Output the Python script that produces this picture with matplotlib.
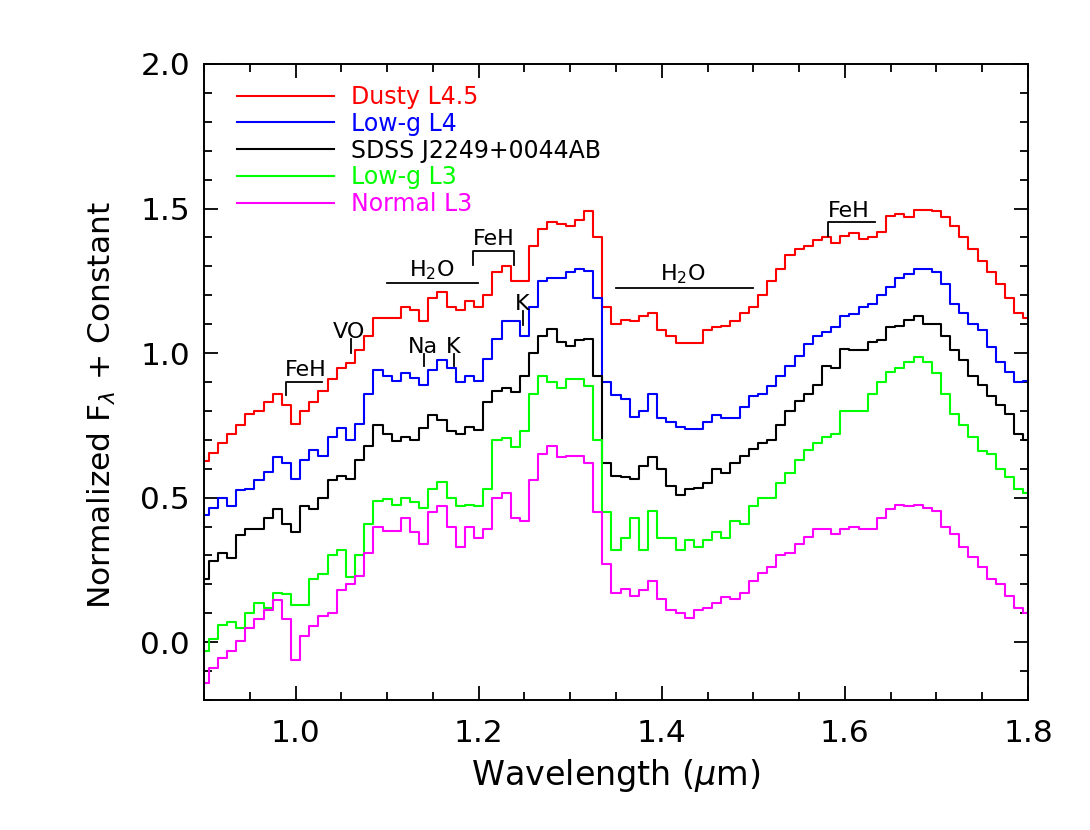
import numpy as np
import matplotlib
matplotlib.use("Agg")
import matplotlib.pyplot as plt
from matplotlib.ticker import MultipleLocator, FormatStrFormatter

# wavelength grid (micron)
wave = np.round(np.arange(0.90, 1.8001, 0.01), 2)

dusty_l45 = [0.626, 0.655, 0.69, 0.72, 0.75, 0.788, 0.80, 0.83, 0.86, 0.82,
             0.755, 0.80, 0.83, 0.87, 0.91, 0.95, 0.965, 1.01, 1.06, 1.12,
             1.12, 1.12, 1.16, 1.15, 1.11, 1.19, 1.21, 1.16, 1.15, 1.18,
             1.16, 1.20, 1.28, 1.30, 1.25, 1.25, 1.37, 1.43, 1.455, 1.445,
             1.44, 1.46, 1.49, 1.40, 1.16, 1.10, 1.115, 1.11, 1.13, 1.14,
             1.08, 1.06, 1.035, 1.035, 1.035, 1.08, 1.09, 1.095, 1.11, 1.14,
             1.16, 1.20, 1.25, 1.29, 1.34, 1.36, 1.37, 1.39, 1.40, 1.38,
             1.405, 1.415, 1.395, 1.40, 1.42, 1.475, 1.48, 1.47, 1.495, 1.495,
             1.49, 1.47, 1.44, 1.40, 1.36, 1.32, 1.28, 1.24, 1.19, 1.14, 1.12]

lowg_l4 = [0.44, 0.465, 0.50, 0.47, 0.525, 0.53, 0.56, 0.59, 0.64, 0.62,
           0.565, 0.63, 0.665, 0.645, 0.71, 0.74, 0.70, 0.755, 0.86, 0.94,
           0.92, 0.905, 0.93, 0.915, 0.89, 0.94, 0.975, 0.95, 0.90, 0.92,
           0.905, 0.98, 1.05, 1.11, 1.11, 1.06, 1.16, 1.25, 1.26, 1.26,
           1.28, 1.29, 1.285, 1.19, 0.90, 0.855, 0.84, 0.78, 0.80, 0.86,
           0.775, 0.76, 0.745, 0.736, 0.736, 0.76, 0.785, 0.776, 0.776, 0.815,
           0.85, 0.86, 0.886, 0.92, 0.955, 0.99, 1.03, 1.06, 1.073, 1.09,
           1.13, 1.135, 1.16, 1.17, 1.20, 1.23, 1.26, 1.275, 1.29, 1.29,
           1.28, 1.24, 1.17, 1.14, 1.10, 1.08, 1.02, 0.97, 0.935, 0.90, 0.905]

sdss_j2249 = [0.22, 0.28, 0.31, 0.29, 0.37, 0.39, 0.39, 0.43, 0.46, 0.41,
              0.38, 0.47, 0.46, 0.50, 0.56, 0.575, 0.565, 0.63, 0.68, 0.75,
              0.72, 0.695, 0.71, 0.70, 0.74, 0.785, 0.77, 0.73, 0.72, 0.745,
              0.735, 0.83, 0.87, 0.88, 0.865, 0.92, 1.00, 1.06, 1.085, 1.04,
              1.025, 1.045, 1.05, 0.92, 0.62, 0.575, 0.57, 0.565, 0.61, 0.64,
              0.60, 0.54, 0.51, 0.53, 0.535, 0.55, 0.60, 0.586, 0.62, 0.645,
              0.67, 0.69, 0.70, 0.75, 0.80, 0.835, 0.86, 0.89, 0.955, 0.95,
              1.013, 1.01, 1.01, 1.04, 1.045, 1.09, 1.095, 1.115, 1.13, 1.10,
              1.10, 1.06, 1.01, 0.975, 0.92, 0.89, 0.85, 0.82, 0.79, 0.72, 0.70]

lowg_l3 = [-0.03, 0.01, 0.06, 0.07, 0.05, 0.10, 0.135, 0.12, 0.17, 0.165,
           0.13, 0.13, 0.22, 0.235, 0.30, 0.32, 0.225, 0.30, 0.41, 0.49,
           0.495, 0.475, 0.50, 0.485, 0.465, 0.53, 0.555, 0.50, 0.47, 0.475,
           0.47, 0.53, 0.70, 0.705, 0.675, 0.73, 0.86, 0.92, 0.90, 0.88,
           0.91, 0.91, 0.885, 0.70, 0.45, 0.32, 0.36, 0.43, 0.32, 0.455,
           0.36, 0.36, 0.32, 0.355, 0.33, 0.355, 0.38, 0.36, 0.42, 0.41,
           0.47, 0.50, 0.50, 0.55, 0.585, 0.63, 0.665, 0.69, 0.71, 0.72,
           0.80, 0.80, 0.80, 0.86, 0.90, 0.935, 0.95, 0.97, 0.985, 0.97,
           0.93, 0.86, 0.79, 0.75, 0.71, 0.66, 0.65, 0.60, 0.57, 0.53, 0.515]

normal_l3 = [-0.14, -0.09, -0.055, -0.03, 0.005, 0.05, 0.08, 0.11, 0.145, 0.08,
             -0.06, 0.02, 0.055, 0.09, 0.10, 0.18, 0.20, 0.23, 0.31, 0.40,
             0.385, 0.385, 0.43, 0.38, 0.34, 0.45, 0.47, 0.40, 0.33, 0.40,
             0.36, 0.39, 0.50, 0.515, 0.43, 0.42, 0.56, 0.65, 0.68, 0.64,
             0.645, 0.645, 0.62, 0.45, 0.27, 0.17, 0.185, 0.16, 0.18, 0.21,
             0.15, 0.11, 0.10, 0.085, 0.11, 0.12, 0.135, 0.155, 0.15, 0.17,
             0.21, 0.24, 0.26, 0.30, 0.31, 0.34, 0.365, 0.39, 0.39, 0.375,
             0.39, 0.40, 0.39, 0.39, 0.43, 0.46, 0.475, 0.47, 0.475, 0.465,
             0.455, 0.40, 0.375, 0.33, 0.295, 0.26, 0.22, 0.20, 0.16, 0.12, 0.10]

labels = ["Dusty L4.5", "Low-g L4", "SDSS J2249+0044AB", "Low-g L3", "Normal L3"]
colors = ["#ff0000", "#0000ff", "#000000", "#00ff00", "#ff00ff"]
spectra = [dusty_l45, lowg_l4, sdss_j2249, lowg_l3, normal_l3]

plt.rcParams["font.family"] = "DejaVu Sans"
plt.rcParams["mathtext.fontset"] = "dejavusans"

fig = plt.figure(figsize=(10.9, 8.3), dpi=100)
ax = fig.add_axes([0.1872, 0.1566, 0.7559, 0.7663])

for spec, col, lab in zip(spectra, colors, labels):
    ax.plot(wave, spec, drawstyle="steps-mid", color=col, lw=1.5, label=lab)

ax.set_xlim(0.9, 1.8)
ax.set_ylim(-0.2, 2.0)

# line identifications
ann = dict(color="black", lw=1.3)
tsize = 16
ax.plot([0.9895, 0.9895, 1.029], [0.855, 0.899, 0.899], **ann)
ax.text(1.011, 0.921, "FeH", fontsize=tsize, ha="center", va="baseline")
ax.plot([1.060, 1.060], [1.002, 1.048], **ann)
ax.text(1.058, 1.052, "VO", fontsize=tsize, ha="center", va="baseline")
ax.plot([1.100, 1.1995], [1.244, 1.244], **ann)
ax.text(1.149, 1.267, "H$_2$O", fontsize=tsize, ha="center", va="baseline")
ax.plot([1.194, 1.194, 1.239, 1.239], [1.304, 1.354, 1.354, 1.304], **ann)
ax.text(1.216, 1.375, "FeH", fontsize=tsize, ha="center", va="baseline")
ax.plot([1.140, 1.140], [0.955, 0.996], **ann)
ax.text(1.139, 1.0, "Na", fontsize=tsize, ha="center", va="baseline")
ax.plot([1.173, 1.173], [0.955, 0.996], **ann)
ax.text(1.172, 1.0, "K", fontsize=tsize, ha="center", va="baseline")
ax.plot([1.248, 1.248], [1.096, 1.146], **ann)
ax.text(1.248, 1.15, "K", fontsize=tsize, ha="center", va="baseline")
ax.plot([1.35, 1.50], [1.224, 1.224], **ann)
ax.text(1.4233, 1.25, "H$_2$O", fontsize=tsize, ha="center", va="baseline")
ax.plot([1.582, 1.582, 1.633], [1.406, 1.455, 1.455], **ann)
ax.text(1.604, 1.47, "FeH", fontsize=tsize, ha="center", va="baseline")

leg = ax.legend(loc="upper left", bbox_to_anchor=(0.0283, 0.982), frameon=False,
                fontsize=17, handlelength=4.1, handletextpad=0.75,
                labelspacing=0.12, borderaxespad=0)
for txt, col in zip(leg.get_texts(), colors):
    txt.set_color(col)

ax.xaxis.set_major_locator(MultipleLocator(0.2))
ax.xaxis.set_minor_locator(MultipleLocator(0.05))
ax.yaxis.set_major_locator(MultipleLocator(0.5))
ax.yaxis.set_minor_locator(MultipleLocator(0.1))
ax.xaxis.set_major_formatter(FormatStrFormatter("%.1f"))
ax.yaxis.set_major_formatter(FormatStrFormatter("%.1f"))
ax.tick_params(which="both", direction="in", top=True, right=True,
               labelsize=22.5, width=1.3)
ax.tick_params(which="major", length=10)
ax.tick_params(which="minor", length=5.5)
ax.tick_params(axis="x", pad=14)
ax.tick_params(axis="y", pad=10)
for sp in ax.spines.values():
    sp.set_linewidth(1.4)

ax.set_xlabel("Wavelength ($\\mu$m)", fontsize=24, labelpad=6)
ax.set_ylabel("Normalized F$_\\lambda$ + Constant", fontsize=22.5)
ax.yaxis.set_label_coords(-0.104, 0.464)

fig.savefig("out.png", dpi=100)
